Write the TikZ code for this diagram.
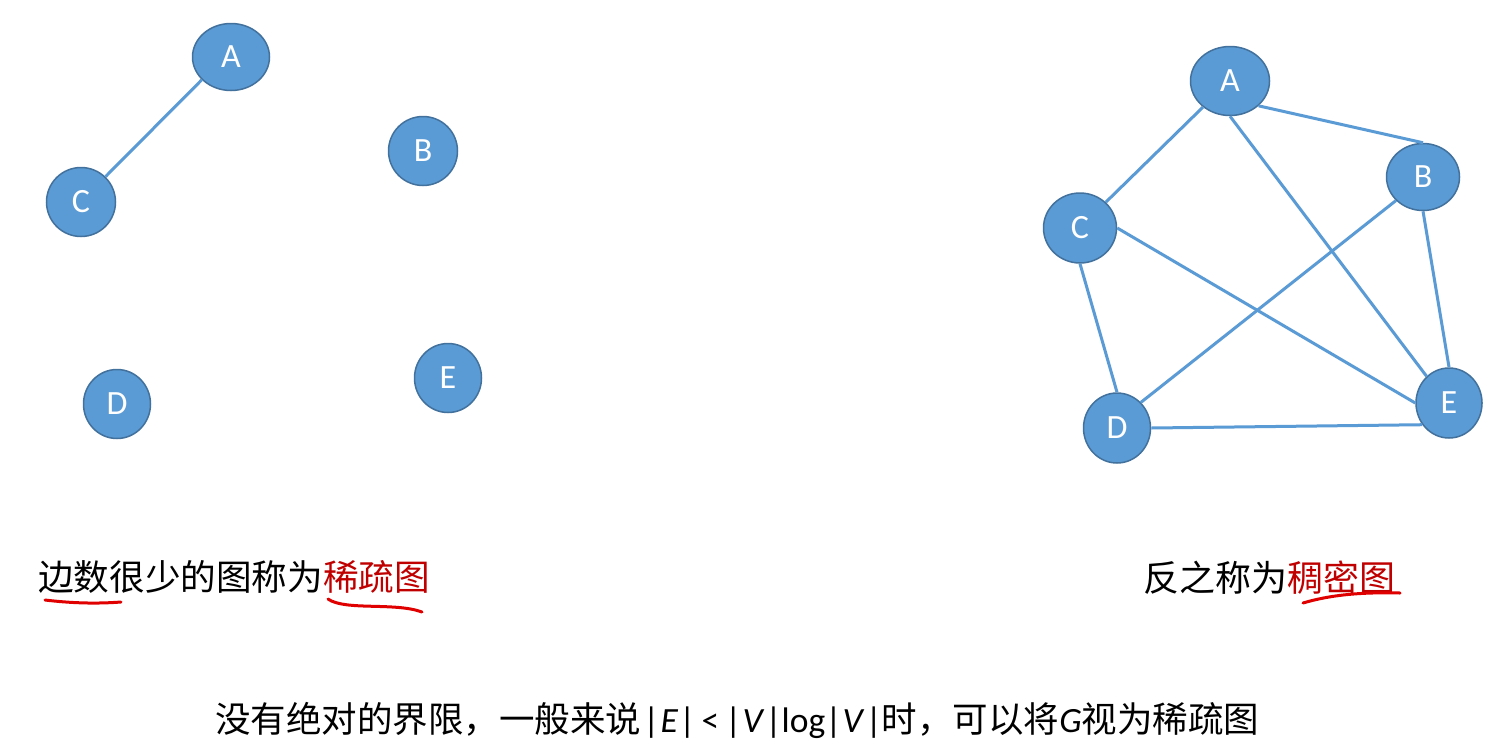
\documentclass[tikz,border=0pt]{standalone}
\usepackage{fontspec}
\setmainfont{Carlito}
\newfontfamily\cjk{Noto Sans CJK SC}
\usetikzlibrary{shapes.geometric}
\definecolor{nodeBlue}{HTML}{5B9BD5}
\definecolor{nodeLine}{HTML}{41719C}
\definecolor{textRed}{HTML}{C00000}
\definecolor{penRed}{HTML}{E00000}
\tikzstyle{vertex} = [ellipse, draw=nodeLine, line width=1.5pt, fill=nodeBlue,
   text=white, minimum width=69pt, minimum height=69pt, inner sep=0pt,
   font=\fontsize{34}{34}\selectfont]
\tikzstyle{edge} = [draw=nodeBlue, line width=3pt]
\tikzstyle{pen} = [penRed, line width=3pt, line cap=round]
\newcommand{\setsize}[1]{|\hspace{1pt}#1\hspace{1pt}|}

\begin{document}
\begin{tikzpicture}[x=1pt, y=-1pt]
  \useasboundingbox[fill=white] (0,0) rectangle (1511,750);
  % sparse graph
  \node[vertex, minimum width=77pt, minimum height=67pt] (sa) at (231,57) {A};
  \node[vertex] (sb) at (423,151) {B};
  \node[vertex] (sc) at (81,202) {C};
  \node[vertex, minimum width=67pt] (sd) at (117,404) {D};
  \node[vertex, minimum width=67pt] (se) at (448,378) {E};
  \draw[edge] (sa.218) -- (sc.46);
  % dense graph
  \node[vertex, minimum width=79pt, minimum height=69pt] (da) at (1230,81) {A};
  \node[vertex, minimum width=73pt, minimum height=67pt] (db) at (1423,177) {B};
  \node[vertex, minimum width=73pt, minimum height=70pt] (dc) at (1080,228) {C};
  \node[vertex, minimum width=67pt, minimum height=70pt] (dd) at (1117,428) {D};
  \node[vertex, minimum width=66pt, minimum height=70pt] (de) at (1449,403) {E};
  \draw[edge] (da.224) -- (dc.45);
  \draw[edge] (da.-41) -- (db.north);
  \draw[edge] (da.south) -- (de.130);
  \draw[edge] (db.221) -- (dd.47);
  \draw[edge] (db.south) -- (de.north);
  \draw[edge] (dc.south) -- (dd.north);
  \draw[edge] (dc.east) -- (de.west);
  \draw[edge] (dd.east) -- (de.-141);
  % captions
  \node[anchor=west, inner sep=0pt, font=\cjk\fontsize{35.6}{40}\selectfont] (sparse) at (38,577)
    {边数很少的图称为\textcolor{textRed}{稀疏图}};
  \node[anchor=west, inner sep=0pt, font=\cjk\fontsize{36}{40}\selectfont] (dense) at (1143,578)
    {反之称为\textcolor{textRed}{稠密图}};
  \node[anchor=west, inner sep=0pt, font=\fontsize{35.5}{40}\selectfont] (rule) at (215,720)
    {{\cjk 没有绝对的界限，一般来说}\hspace{2pt}\setsize{\textit{E}}\hspace{6pt}<\hspace{6pt}\setsize{\textit{V}}log\setsize{\textit{V}}{\cjk 时，可以将}\textit{G}{\cjk 视为稀疏图}};
  % hand-drawn underlines
  \draw[pen] (45,600) .. controls (70,603) and (95,604) .. (121,602);
  \draw[pen] (328,599) .. controls (345,611) and (395,602) .. (422,612);
  \draw[pen] (1303,603) .. controls (1330,595) and (1360,592) .. (1400,593);
\end{tikzpicture}
\end{document}
